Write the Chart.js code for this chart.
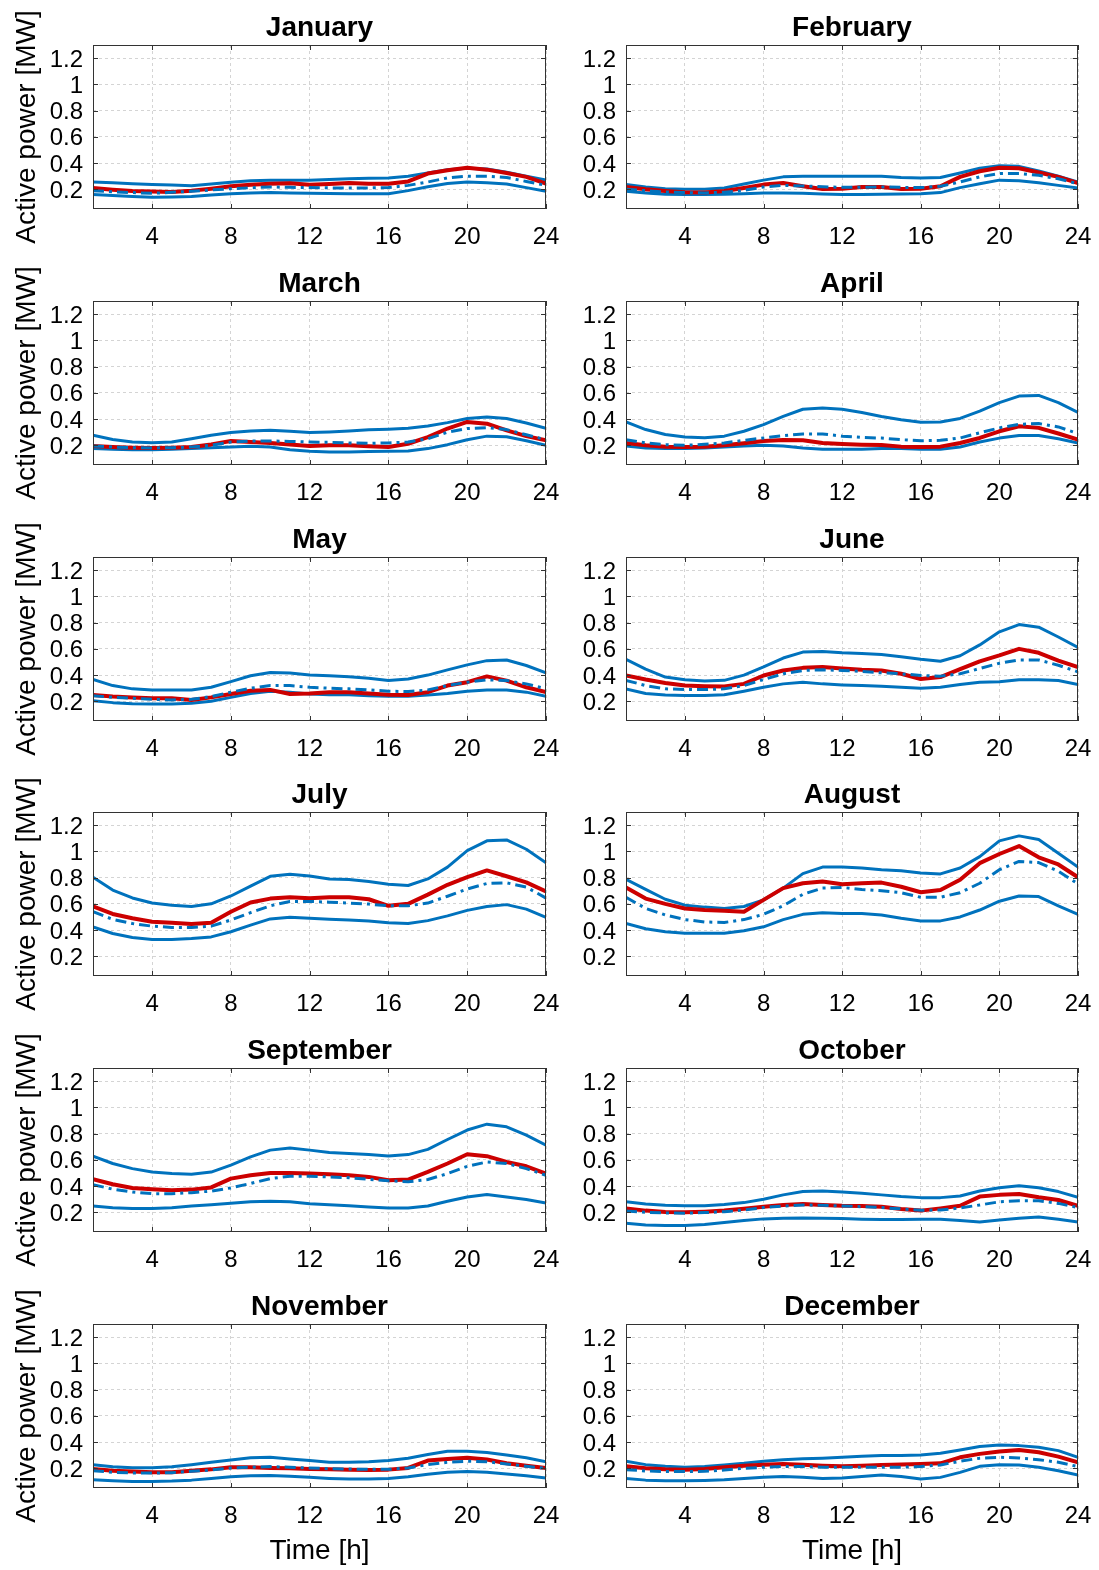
<!DOCTYPE html>
<html>
<head>
<meta charset="utf-8">
<script src="https://cdn.jsdelivr.net/npm/chart.js@4.4.1/dist/chart.umd.min.js"></script>
<style>
  html, body { margin: 0; padding: 0; background: #fff; }
  body { width: 1099px; height: 1570px; position: relative; overflow: hidden; }
  canvas { position: absolute; }
</style>
</head>
<body>
<script>
// hours of the day and tick positions
const hours = [1,2,3,4,5,6,7,8,9,10,11,12,13,14,15,16,17,18,19,20,21,22,23,24];
const xTicks = [4, 8, 12, 16, 20, 24];
const yTicks = [0.2, 0.4, 0.6, 0.8, 1.0, 1.2];
const months = ['January','February','March','April','May','June','July','August','September','October','November','December'];

// hi / lo = blue solid bounds, mid = blue dash-dot, red = red solid (MW)
const janHi = [.256,.25,.243,.236,.232,.228,.24,.254,.265,.27,.27,.27,.275,.28,.284,.287,.3,.325,.35,.36,.355,.33,.3,.27];
const janLo = [.16,.152,.145,.14,.142,.146,.156,.167,.172,.175,.172,.17,.168,.167,.167,.167,.19,.22,.245,.256,.25,.24,.213,.185];
const janMid = [.19,.182,.175,.17,.177,.185,.195,.205,.212,.218,.215,.213,.211,.21,.211,.213,.23,.256,.287,.3,.3,.29,.26,.23];
const janRed = [.21,.197,.187,.183,.18,.19,.205,.223,.235,.243,.246,.235,.24,.248,.243,.243,.26,.32,.345,.365,.35,.325,.295,.243];

const febHi = [.236,.218,.205,.2,.2,.21,.24,.27,.295,.3,.3,.3,.3,.3,.29,.287,.29,.325,.36,.38,.375,.34,.3,.256];
const febLo = [.185,.172,.162,.16,.16,.162,.167,.172,.172,.17,.165,.16,.16,.162,.165,.167,.175,.213,.243,.27,.266,.25,.23,.21];
const febMid = [.2,.19,.18,.175,.172,.178,.192,.218,.23,.226,.22,.215,.216,.218,.215,.213,.223,.256,.295,.32,.32,.307,.28,.243];
const febRed = [.218,.2,.187,.177,.175,.187,.21,.236,.248,.223,.203,.205,.218,.218,.203,.205,.223,.295,.338,.364,.36,.328,.295,.248];

const marHi = [.277,.245,.225,.22,.225,.25,.277,.297,.31,.315,.307,.297,.302,.31,.318,.323,.33,.348,.373,.405,.415,.405,.37,.33];
const marLo = [.175,.17,.167,.167,.17,.175,.182,.187,.192,.187,.167,.154,.15,.15,.152,.154,.157,.175,.205,.243,.27,.265,.235,.2];
const marMid = [.195,.187,.182,.18,.182,.187,.2,.225,.233,.233,.23,.225,.223,.218,.215,.218,.225,.25,.3,.328,.335,.32,.28,.243];
const marRed = [.195,.187,.182,.18,.182,.187,.207,.233,.225,.218,.207,.195,.2,.2,.192,.187,.212,.263,.328,.378,.365,.314,.27,.238];

const aprHi = [.378,.32,.282,.263,.258,.27,.307,.358,.42,.475,.485,.475,.45,.42,.395,.375,.378,.405,.46,.525,.575,.58,.525,.45];
const aprLo = [.195,.18,.175,.175,.18,.187,.195,.2,.195,.18,.17,.17,.17,.175,.175,.17,.17,.187,.225,.255,.275,.275,.25,.218];
const aprMid = [.243,.218,.205,.2,.208,.218,.238,.256,.274,.287,.287,.27,.26,.255,.243,.235,.238,.256,.295,.333,.36,.366,.34,.29];
const aprRed = [.218,.2,.19,.187,.19,.2,.215,.233,.24,.238,.218,.21,.205,.203,.19,.187,.19,.218,.256,.307,.345,.333,.29,.243];

const mayHi = [.366,.32,.295,.287,.287,.287,.307,.35,.395,.42,.415,.4,.395,.387,.376,.358,.37,.4,.44,.478,.51,.515,.473,.417];
const mayLo = [.205,.19,.182,.18,.18,.185,.2,.23,.26,.277,.27,.256,.25,.25,.243,.238,.238,.248,.26,.277,.287,.287,.27,.238];
const mayMid = [.243,.23,.223,.215,.21,.215,.236,.27,.3,.32,.32,.307,.3,.295,.287,.277,.274,.287,.32,.346,.364,.358,.333,.295];
const mayRed = [.248,.236,.23,.223,.223,.21,.23,.256,.28,.287,.256,.26,.27,.27,.26,.25,.248,.27,.32,.346,.39,.358,.307,.27];

const junHi = [.52,.445,.385,.365,.355,.36,.4,.463,.53,.575,.58,.57,.565,.557,.54,.52,.505,.547,.63,.73,.785,.765,.69,.61];
const junLo = [.295,.26,.248,.245,.245,.25,.277,.307,.333,.346,.333,.325,.32,.315,.307,.3,.307,.328,.346,.35,.364,.364,.358,.328];
const junMid = [.36,.32,.295,.29,.29,.295,.32,.366,.41,.435,.44,.435,.428,.417,.41,.397,.392,.41,.45,.49,.515,.515,.475,.425];
const junRed = [.397,.366,.34,.32,.315,.313,.333,.397,.435,.455,.462,.45,.44,.435,.41,.37,.385,.445,.505,.55,.6,.57,.51,.46];

const julHi = [.803,.705,.645,.607,.59,.58,.6,.66,.735,.81,.825,.812,.79,.785,.77,.75,.74,.79,.88,1.005,1.08,1.087,1.016,.913];
const julLo = [.425,.374,.343,.328,.328,.335,.348,.387,.438,.485,.497,.49,.482,.477,.47,.456,.45,.472,.508,.55,.58,.594,.56,.497];
const julMid = [.54,.482,.45,.43,.42,.42,.43,.477,.533,.585,.618,.618,.613,.606,.598,.585,.585,.606,.658,.713,.755,.76,.728,.644];
const julRed = [.58,.523,.49,.464,.456,.446,.456,.54,.61,.64,.65,.643,.65,.65,.635,.585,.6,.67,.745,.803,.855,.81,.764,.695];

const augHi = [.787,.71,.635,.59,.575,.565,.58,.63,.72,.83,.88,.88,.873,.86,.852,.835,.828,.873,.96,1.08,1.118,1.09,.985,.88];
const augLo = [.45,.41,.387,.375,.375,.375,.395,.425,.48,.52,.532,.527,.527,.515,.49,.47,.47,.5,.553,.62,.66,.655,.585,.52];
const augMid = [.65,.565,.515,.48,.462,.458,.48,.52,.585,.673,.72,.725,.71,.7,.685,.65,.65,.685,.757,.86,.923,.915,.848,.752];
const augRed = [.724,.64,.6,.565,.553,.548,.54,.63,.72,.757,.77,.75,.757,.762,.73,.688,.705,.783,.91,.98,1.04,.955,.9,.803];

const sepHi = [.628,.572,.533,.507,.495,.49,.507,.56,.623,.674,.69,.674,.656,.648,.64,.63,.64,.68,.755,.827,.872,.852,.788,.712];
const sepLo = [.248,.235,.23,.23,.235,.248,.258,.27,.28,.284,.28,.266,.258,.25,.24,.233,.233,.248,.284,.317,.335,.317,.297,.27];
const sepMid = [.41,.377,.355,.342,.342,.35,.362,.386,.42,.457,.475,.475,.47,.464,.452,.44,.433,.45,.495,.551,.584,.572,.533,.482];
const sepRed = [.452,.414,.386,.376,.368,.373,.39,.457,.482,.5,.5,.495,.49,.482,.47,.445,.45,.508,.572,.643,.628,.584,.551,.495];

const octHi = [.28,.263,.253,.25,.25,.26,.274,.3,.333,.358,.362,.355,.345,.333,.32,.312,.312,.325,.362,.388,.403,.388,.358,.315];
const octLo = [.117,.104,.1,.1,.107,.122,.137,.15,.155,.157,.155,.153,.148,.145,.145,.148,.148,.137,.127,.142,.155,.165,.148,.127];
const octMid = [.21,.2,.195,.193,.198,.205,.218,.236,.248,.256,.253,.248,.243,.236,.226,.215,.218,.233,.256,.28,.288,.288,.268,.236];
const octRed = [.23,.213,.203,.2,.205,.213,.228,.243,.256,.264,.256,.25,.248,.243,.226,.213,.23,.25,.32,.333,.34,.315,.294,.25];

const novHi = [.228,.212,.205,.205,.212,.228,.246,.264,.28,.284,.271,.26,.246,.246,.25,.26,.277,.305,.33,.33,.32,.302,.28,.25];
const novLo = [.113,.105,.1,.1,.103,.11,.123,.136,.144,.146,.139,.131,.123,.118,.118,.123,.136,.154,.17,.175,.17,.157,.144,.126];
const novMid = [.182,.17,.164,.164,.167,.177,.187,.203,.208,.213,.208,.203,.197,.195,.192,.192,.203,.228,.246,.254,.25,.233,.215,.2];
const novRed = [.195,.182,.175,.17,.17,.182,.192,.208,.208,.203,.2,.195,.192,.19,.187,.19,.203,.259,.271,.28,.267,.238,.22,.203];

const decHi = [.254,.228,.215,.208,.213,.226,.238,.254,.266,.272,.277,.284,.292,.297,.297,.302,.315,.34,.366,.378,.373,.36,.335,.284];
const decLo = [.123,.11,.105,.105,.108,.113,.123,.131,.138,.131,.123,.126,.138,.149,.138,.118,.131,.169,.215,.228,.226,.208,.182,.149];
const decMid = [.19,.18,.175,.175,.177,.187,.2,.208,.215,.213,.208,.208,.208,.208,.208,.213,.226,.254,.277,.284,.279,.266,.246,.213];
const decRed = [.215,.2,.192,.19,.195,.208,.22,.228,.233,.228,.22,.215,.22,.226,.23,.233,.238,.284,.31,.328,.34,.322,.289,.246];

const panelData = [
  [janHi, janLo, janMid, janRed], [febHi, febLo, febMid, febRed],
  [marHi, marLo, marMid, marRed], [aprHi, aprLo, aprMid, aprRed],
  [mayHi, mayLo, mayMid, mayRed], [junHi, junLo, junMid, junRed],
  [julHi, julLo, julMid, julRed], [augHi, augLo, augMid, augRed],
  [sepHi, sepLo, sepMid, sepRed], [octHi, octLo, octMid, octRed],
  [novHi, novLo, novMid, novRed], [decHi, decLo, decMid, decRed]
];

const BLUE = '#0072BD';
const RED = '#CC0000';
const FONT = "'Liberation Sans', Arial, Helvetica, sans-serif";

// box round the plot area plus inward tick marks, like matlab
const framePlugin = {
  id: 'frame',
  afterDraw(chart) {
    const {ctx, chartArea: a, scales} = chart;
    ctx.save();
    ctx.strokeStyle = '#333333';
    ctx.lineWidth = 1;
    ctx.beginPath();
    xTicks.forEach(v => {
      const p = Math.round(scales.x.getPixelForValue(v)) + 0.5;
      ctx.moveTo(p, a.bottom); ctx.lineTo(p, a.bottom - 5);
      ctx.moveTo(p, a.top); ctx.lineTo(p, a.top + 5);
    });
    yTicks.forEach(v => {
      const p = Math.round(scales.y.getPixelForValue(v)) + 0.5;
      ctx.moveTo(a.left, p); ctx.lineTo(a.left + 5, p);
      ctx.moveTo(a.right, p); ctx.lineTo(a.right - 5, p);
    });
    ctx.stroke();
    ctx.strokeRect(Math.round(a.left) + 0.5, Math.round(a.top) + 0.5,
                   Math.round(a.width) - 1, Math.round(a.height) - 1);
    ctx.restore();
  }
};

function series(vals, color, width, dash, order) {
  return {
    data: hours.map((h, i) => ({x: h, y: vals[i]})),
    borderColor: color,
    borderWidth: width,
    borderDash: dash,
    borderJoinStyle: 'round',
    pointRadius: 0,
    tension: 0,
    fill: false,
    order: order
  };
}

function makePanel(idx) {
  const row = Math.floor(idx / 2), col = idx % 2;
  const last = row === 5;
  const boxTop = Math.round(45.3 + 255.7 * row);
  const left = col === 0 ? 0 : 560;
  const width = col === 0 ? 560 : 539;
  const yWidth = col === 0 ? 93 : 66;
  const xHeight = last ? 82 : 45;
  const height = 41 + 164 + xHeight;

  const cv = document.createElement('canvas');
  cv.width = width; cv.height = height;
  cv.style.left = left + 'px';
  cv.style.top = (boxTop - 41) + 'px';
  cv.style.width = width + 'px';
  cv.style.height = height + 'px';
  document.body.appendChild(cv);

  const [hi, lo, mid, red] = panelData[idx];
  new Chart(cv.getContext('2d'), {
    type: 'line',
    data: {
      datasets: [
        series(mid, BLUE, 3, [11, 5, 3, 5], 0),
        series(red, RED, 4, [], 1),
        series(hi, BLUE, 3, [], 2),
        series(lo, BLUE, 3, [], 3)
      ]
    },
    options: {
      responsive: false,
      animation: false,
      devicePixelRatio: 1,
      layout: {padding: {left: 0, right: col === 0 ? 14 : 21, top: 0, bottom: 0}},
      plugins: {
        legend: {display: false},
        tooltip: {enabled: false},
        title: {
          display: true,
          fullSize: false,
          text: months[idx],
          color: '#000',
          font: {family: FONT, size: 28, weight: 'bold', lineHeight: '34px'},
          padding: {top: 7, bottom: 0}
        }
      },
      scales: {
        x: {
          type: 'linear', min: 1, max: 24,
          afterBuildTicks: s => { s.ticks = xTicks.map(v => ({value: v})); },
          afterFit: s => { s.height = xHeight; s.paddingLeft = 0; s.paddingRight = 0; },
          grid: {color: '#d4d4d4', lineWidth: 1, drawTicks: false},
          border: {display: false, dash: [3, 3]},
          ticks: {color: '#000', padding: 14, maxRotation: 0,
                  font: {family: FONT, size: 24}},
          title: {display: last, text: 'Time [h]', color: '#000',
                  font: {family: FONT, size: 28}, padding: {top: 0, bottom: 2}}
        },
        y: {
          type: 'linear', min: 0.05, max: 1.3,
          afterBuildTicks: s => { s.ticks = yTicks.map(v => ({value: v})); },
          afterFit: s => { s.width = yWidth; s.paddingTop = 0; s.paddingBottom = 0; },
          grid: {color: '#d4d4d4', lineWidth: 1, drawTicks: false},
          border: {display: false, dash: [3, 3]},
          ticks: {color: '#000', padding: 10, labelOffset: 2,
                  font: {family: FONT, size: 24},
                  callback: v => String(Math.round(v * 10) / 10)},
          title: {display: col === 0, text: 'Active power [MW]', color: '#000',
                  font: {family: FONT, size: 28}, padding: {top: 10, bottom: 0}}
        }
      }
    },
    plugins: [framePlugin]
  });
}

for (let i = 0; i < 12; i++) makePanel(i);
</script>
</body>
</html>
